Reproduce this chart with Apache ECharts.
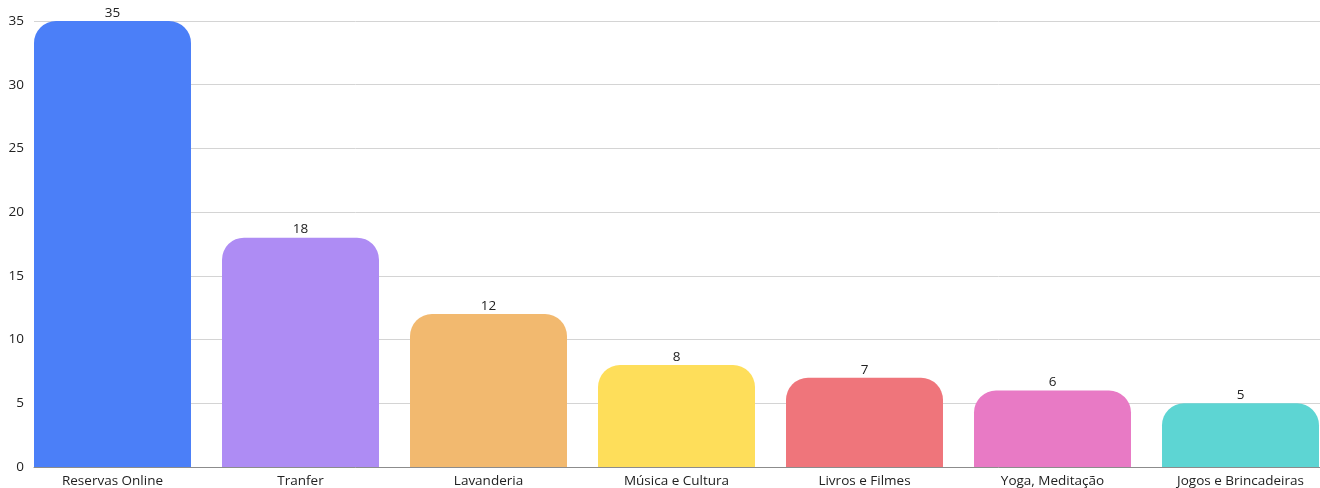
<!DOCTYPE html>
<html>
<head>
<meta charset="utf-8">
<script src="https://cdn.jsdelivr.net/npm/echarts@6/dist/echarts.min.js"></script>
<style>
  html, body { margin: 0; padding: 0; background: #fff; }
  #chart { width: 1320px; height: 488px; }
</style>
</head>
<body>
<div id="chart"></div>
<script>
// Services requested
const categories = ['Reservas Online', 'Tranfer', 'Lavanderia', 'Música e Cultura', 'Livros e Filmes', 'Yoga, Meditação', 'Jogos e Brincadeiras'];
const values = [35, 18, 12, 8, 7, 6, 5];
const barColors = ['#4b7ff8', '#ae8cf4', '#f2b96f', '#fede5a', '#ef757b', '#e87ac5', '#5dd5d3'];
const yTicks = { min: 0, max: 35, interval: 5 };

const FONT = '"Open Sans", Lato, sans-serif';

const chart = echarts.init(document.getElementById('chart'), null, { renderer: 'canvas' });

chart.setOption({
  backgroundColor: '#ffffff',
  animation: false,
  grid: [
    // value scale, gridlines and baseline
    { left: 34, right: 0, top: 21, bottom: 21, outerBoundsMode: 'none', containLabel: false },
    // bars and category labels
    { left: 18.5, right: -14.5, top: 21, bottom: 21, outerBoundsMode: 'none', containLabel: false }
  ],
  xAxis: [
    {
      gridIndex: 0,
      type: 'category',
      data: categories,
      axisLine: { show: true, lineStyle: { color: '#8c8c8c', width: 1 } },
      axisTick: { show: false },
      axisLabel: { show: false },
      splitLine: { show: false }
    },
    {
      gridIndex: 1,
      type: 'category',
      data: categories,
      axisLine: { show: false },
      axisTick: { show: false },
      axisLabel: { color: '#222', fontSize: 13.5, fontFamily: FONT, margin: 7 },
      splitLine: { show: false }
    }
  ],
  yAxis: [
    {
      gridIndex: 0,
      type: 'value',
      min: yTicks.min,
      max: yTicks.max,
      interval: yTicks.interval,
      axisLine: { show: false },
      axisTick: { show: false },
      axisLabel: { color: '#222', fontSize: 13.5, fontFamily: FONT, margin: 10 },
      splitLine: { show: true, lineStyle: { color: '#d4d4d4', width: 1 } }
    },
    {
      gridIndex: 1,
      type: 'value',
      min: yTicks.min,
      max: yTicks.max,
      interval: yTicks.interval,
      show: false,
      splitLine: { show: false }
    }
  ],
  series: [
    {
      type: 'bar',
      xAxisIndex: 1,
      yAxisIndex: 1,
      barWidth: '83.5%',
      data: values.map((v, i) => ({
        value: v,
        itemStyle: { color: barColors[i] }
      })),
      itemStyle: { borderRadius: [22, 22, 0, 0] },
      label: {
        show: true,
        position: 'top',
        distance: 1,
        color: '#222',
        fontSize: 13.5,
        fontFamily: FONT
      },
      z: 3
    }
  ]
});
</script>
</body>
</html>
